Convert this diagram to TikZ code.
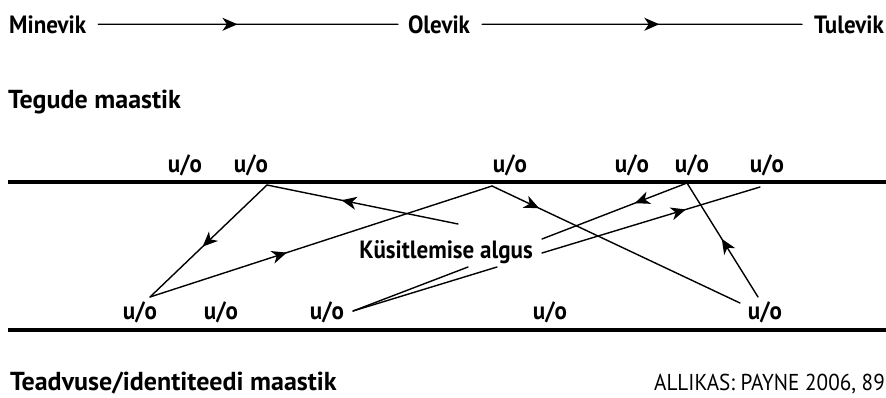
\documentclass[tikz,border=0pt]{standalone}
\usepackage{fontspec}
\setmainfont{PT Sans}
\usetikzlibrary{arrows.meta,decorations.markings}
\begin{document}
\begin{tikzpicture}[x=1pt,y=-1pt,
  >={Stealth[length=15pt,width=13pt,inset=4.5pt]},
  lbl/.style={inner sep=0pt, font=\fontsize{25}{30}\selectfont\bfseries\addfontfeatures{FakeStretch=0.92}},
  heading/.style={inner sep=0pt, font=\fontsize{26}{30}\selectfont\bfseries},
  srcnote/.style={inner sep=0pt, font=\fontsize{23}{28}\selectfont\addfontfeatures{FakeStretch=0.92}},
  uo/.style={lbl, anchor=base},
  conn/.style={line width=1.4pt, line cap=round},
  ground/.style={line width=4pt},
  midarrow/.style={postaction={decorate},
    decoration={markings, mark=at position #1 with {\arrow{>}}}}
]
\useasboundingbox (0,0) rectangle (886,397);

% time axis
\node[lbl, anchor=base west] (mi) at (9,33) {Minevik};
\node[lbl, anchor=base] (ol) at (439,33) {Olevik};
\node[lbl, anchor=base east] (tu) at (884,33) {Tulevik};
\draw[conn, midarrow=0.47, shorten <=12pt, shorten >=10pt] (mi.east) -- (ol.west);
\draw[conn, midarrow=0.55, shorten <=12pt, shorten >=12pt] (ol.east) -- (tu.west);

% landscapes
\node[heading, anchor=base west] (tegude) at (8,108) {Tegude maastik};
\node[heading, anchor=base west] (teadvus) at (10,390) {Teadvuse/identiteedi maastik};
\node[srcnote, anchor=base east] (allikas) at (885,390) {ALLIKAS: PAYNE 2006, 89};

\draw[ground] (8,182) -- (886,182);
\draw[ground] (8,330) -- (886,330);

% upper events
\node[uo] (t1) at (185,172) {u/o};
\node[uo] (t2) at (251,172) {u/o};
\node[uo] (t3) at (510,172) {u/o};
\node[uo] (t4) at (632,172) {u/o};
\node[uo] (t5) at (692,172) {u/o};
\node[uo] (t6) at (767,172) {u/o};

% lower events
\node[uo] (b1) at (140,319) {u/o};
\node[uo] (b2) at (221,319) {u/o};
\node[uo] (b3) at (327,319) {u/o};
\node[uo] (b4) at (550,319) {u/o};
\node[uo] (b5) at (765,319) {u/o};

\node[lbl, anchor=base] (ks) at (446,258) {Küsitlemise algus};

% connector ends
\coordinate (p2) at (267,185);
\coordinate (p3) at (492,186);
\coordinate (p5) at (687,183);
\coordinate (p6) at (760,187);
\coordinate (q1) at (150,297);
\coordinate (q3) at (353,311);
\coordinate (q5a) at (740,303);
\coordinate (q5b) at (758,297);
\coordinate (k1) at (458,224);
\coordinate (k2) at (542,239);
\coordinate (k3) at (542,253);
\coordinate (k4) at (468,267);
\coordinate (k5) at (497,267);

\draw[conn, midarrow=0.55] (p2) -- (q1);
\draw[conn, midarrow=0.61] (k1) -- (p2);
\draw[conn, midarrow=0.40] (q1) -- (p3);
\draw[conn, midarrow=0.19] (p3) -- (q5a);
\draw[conn, midarrow=0.36] (p5) -- (k2);
\draw[conn, midarrow=0.66] (k3) -- (p6);
\draw[conn, midarrow=0.51] (q5b) -- (p5);
\draw[conn] (k4) -- (q3);
\draw[conn] (k5) -- (q3);
\end{tikzpicture}
\end{document}
